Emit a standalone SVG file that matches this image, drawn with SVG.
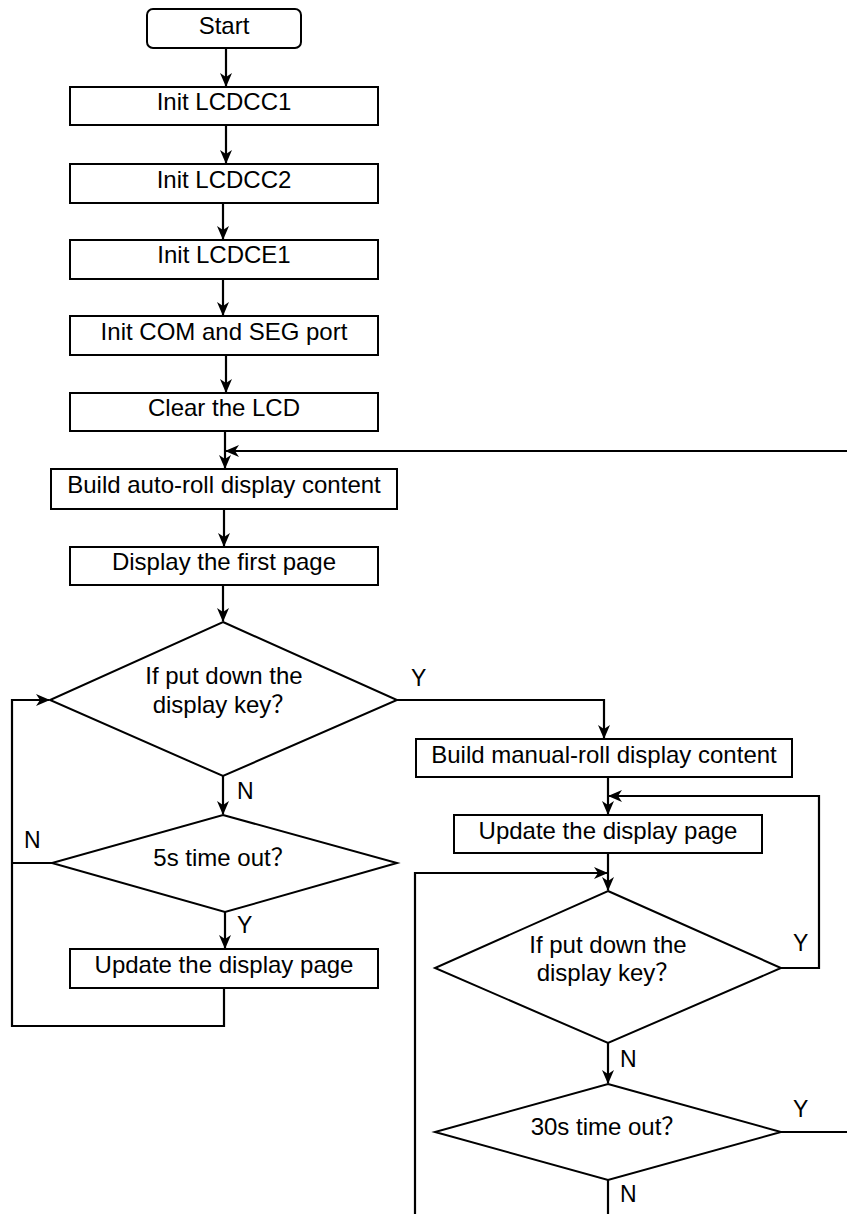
<svg xmlns="http://www.w3.org/2000/svg" width="847" height="1214" viewBox="0 0 847 1214">
<style>
.box{fill:#fff;stroke:#000;stroke-width:2}
.t{font-family:"Liberation Sans",Arial,"Noto Sans CJK SC",sans-serif;font-size:24px;fill:#000;text-anchor:middle}
.l{font-family:"Liberation Sans",Arial,sans-serif;font-size:23px;fill:#000}
.c{fill:none;stroke:#000;stroke-width:2.2}
</style>
<defs>
<marker id="ah" markerWidth="14" markerHeight="14" viewBox="0 0 14 14" refX="13" refY="7" orient="auto" markerUnits="userSpaceOnUse">
<path d="M0,1 L14,7 L0,13 L4,7 Z" fill="#000"/>
</marker>
</defs>
<g id="connectors">
<path class="c" d="M226,48 V86" marker-end="url(#ah)"/>
<path class="c" d="M226,125 V163" marker-end="url(#ah)"/>
<path class="c" d="M223,203 V239" marker-end="url(#ah)"/>
<path class="c" d="M223,279 V315" marker-end="url(#ah)"/>
<path class="c" d="M226,355 V392" marker-end="url(#ah)"/>
<path class="c" d="M225,431 V468" marker-end="url(#ah)"/>
<path class="c" d="M847,451 H226" marker-end="url(#ah)"/>
<path class="c" d="M224,509 V546" marker-end="url(#ah)"/>
<path class="c" d="M223,585 V621" marker-end="url(#ah)"/>
<path class="c" d="M397,700 H604 V738" marker-end="url(#ah)"/>
<path class="c" d="M223,776 V814" marker-end="url(#ah)"/>
<path class="c" d="M225,912 V948" marker-end="url(#ah)"/>
<path class="c" d="M224,988 V1026 H12 V700 H49" marker-end="url(#ah)"/>
<path class="c" d="M52,863 H12"/>
<path class="c" d="M608,777 V814" marker-end="url(#ah)"/>
<path class="c" d="M781,968 H819 V796 H609" marker-end="url(#ah)"/>
<path class="c" d="M608,853 V890" marker-end="url(#ah)"/>
<path class="c" d="M415,1214 V873 H607" marker-end="url(#ah)"/>
<path class="c" d="M608,1043 V1083" marker-end="url(#ah)"/>
<path class="c" d="M781,1132 H847"/>
<path class="c" d="M608,1180 V1214"/>
</g>
<g id="start"><rect class="box" x="147" y="9" width="154" height="39" rx="6"/><text class="t" x="224" y="34">Start</text></g>
<g id="init1"><rect class="box" x="70" y="87" width="308" height="38"/><text class="t" x="224" y="110">Init LCDCC1</text></g>
<g id="init2"><rect class="box" x="70" y="164" width="308" height="39"/><text class="t" x="224" y="188">Init LCDCC2</text></g>
<g id="init3"><rect class="box" x="70" y="240" width="308" height="39"/><text class="t" x="224" y="263">Init LCDCE1</text></g>
<g id="initport"><rect class="box" x="70" y="316" width="308" height="39"/><text class="t" x="224" y="340">Init COM and SEG port</text></g>
<g id="clear"><rect class="box" x="70" y="393" width="308" height="38"/><text class="t" x="224" y="416">Clear the LCD</text></g>
<g id="autoroll"><rect class="box" x="51" y="469" width="346" height="40"/><text class="t" x="224" y="493">Build auto-roll display content</text></g>
<g id="firstpage"><rect class="box" x="70" y="547" width="308" height="38"/><text class="t" x="224" y="570">Display the first page</text></g>
<g id="dec1"><polygon class="box" points="223,622 397,700 223,776 50,700"/><text class="t" x="224" y="684">If put down the</text><text class="t" x="224" y="713">display key？</text></g>
<g id="dec2"><polygon class="box" points="223,815 397,863 225,912 52,863"/><text class="t" x="224" y="866">5s time out？</text></g>
<g id="update1"><rect class="box" x="70" y="949" width="308" height="39"/><text class="t" x="224" y="973">Update the display page</text></g>
<g id="manual"><rect class="box" x="416" y="739" width="376" height="38"/><text class="t" x="604" y="763">Build manual-roll display content</text></g>
<g id="update2"><rect class="box" x="454" y="815" width="308" height="38"/><text class="t" x="608" y="839">Update the display page</text></g>
<g id="dec3"><polygon class="box" points="608,891 781,968 608,1043 435,968"/><text class="t" x="608" y="953">If put down the</text><text class="t" x="608" y="981">display key？</text></g>
<g id="dec4"><polygon class="box" points="608,1084 781,1132 608,1180 435,1132"/><text class="t" x="608" y="1135">30s time out？</text></g>
<g id="labels">
<text class="l" x="411" y="686">Y</text>
<text class="l" x="237" y="799">N</text>
<text class="l" x="24" y="848">N</text>
<text class="l" x="237" y="933">Y</text>
<text class="l" x="793" y="951">Y</text>
<text class="l" x="620" y="1067">N</text>
<text class="l" x="793" y="1117">Y</text>
<text class="l" x="620" y="1202">N</text>
</g>
</svg>
